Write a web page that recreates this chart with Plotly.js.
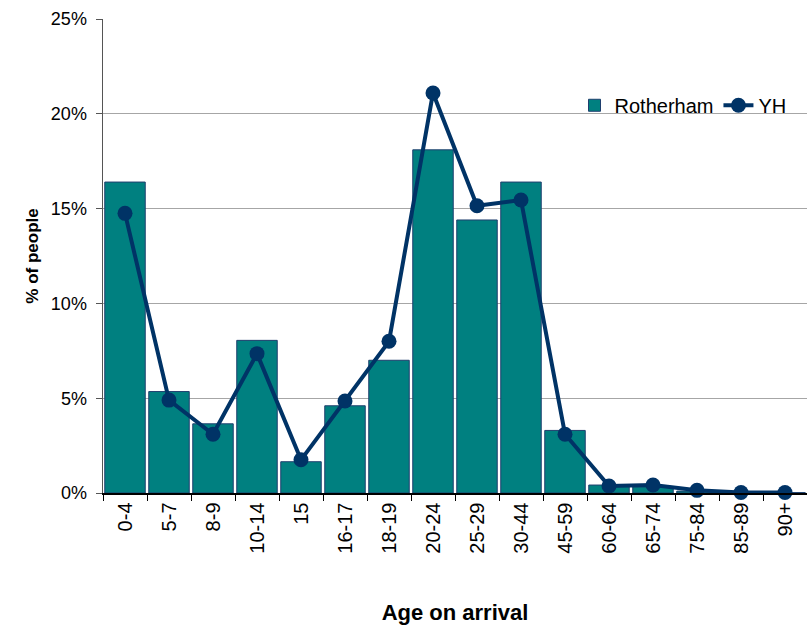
<!DOCTYPE html>
<html>
<head>
<meta charset="utf-8">
<script src="https://cdn.plot.ly/plotly-3.0.1.min.js"></script>
<style>html,body{margin:0;padding:0;background:#fff;overflow:hidden;}#chart{width:807px;height:628px;}</style>
</head>
<body>
<div id="chart"></div>
<script>
const categories = ["0-4","5-7","8-9","10-14","15","16-17","18-19","20-24","25-29","30-44","45-59","60-64","65-74","75-84","85-89","90+"];
const rotherham = [16.4, 5.35, 3.65, 8.05, 1.65, 4.6, 7.0, 18.1, 14.4, 16.4, 3.3, 0.42, 0.33, 0.1, 0.02, 0.02];
const yh = [14.75, 4.9, 3.1, 7.35, 1.75, 4.85, 8.0, 21.1, 15.15, 15.45, 3.1, 0.37, 0.42, 0.14, 0.03, 0.03];

const data = [
  {type:'bar', name:'Rotherham', x:categories, y:rotherham,
   marker:{color:'#008080', line:{color:'#1f3f6e', width:1}}},
  {type:'scatter', mode:'lines+markers', name:'YH', x:categories, y:yh,
   line:{color:'#003366', width:4}, marker:{color:'#003366', size:15}, cliponaxis:false}
];

const layout = {
  width:807, height:628,
  margin:{l:103, r:0, t:19, b:135, autoexpand:false},
  paper_bgcolor:'#fff', plot_bgcolor:'#fff',
  font:{family:'Liberation Sans, Arial, sans-serif', color:'#000', size:18},
  bargap:0.08,
  showlegend:true,
  legend:{orientation:'h', x:0.978, xanchor:'right', y:0.818, yanchor:'middle',
          font:{size:20}, bgcolor:'rgba(0,0,0,0)', itemwidth:30, tracegroupgap:0},
  xaxis:{type:'category', range:[-0.5, 15.5], autorange:false, tickangle:-90, tickson:'boundaries', ticks:'outside', ticklen:6,
         tickcolor:'#000', showline:true, linecolor:'#000', linewidth:1.5, showgrid:false,
         tickfont:{size:20}, fixedrange:true, automargin:false,
         title:{text:'<b>Age on arrival</b>', font:{size:22}, standoff:52}},
  yaxis:{range:[0,25], dtick:5, ticksuffix:'%', ticks:'outside', ticklen:6, tickcolor:'#555',
         showline:true, linecolor:'#555', linewidth:1.5, showgrid:true, gridcolor:'#a6a6a6', gridwidth:1,
         zeroline:false, tickfont:{size:18}, automargin:false, ticklabelstandoff:5,
         title:{text:'<b>% of people</b>', font:{size:17}, standoff:8}}
};

Plotly.newPlot('chart', data, layout, {displayModeBar:false, staticPlot:true});
</script>
</body>
</html>
